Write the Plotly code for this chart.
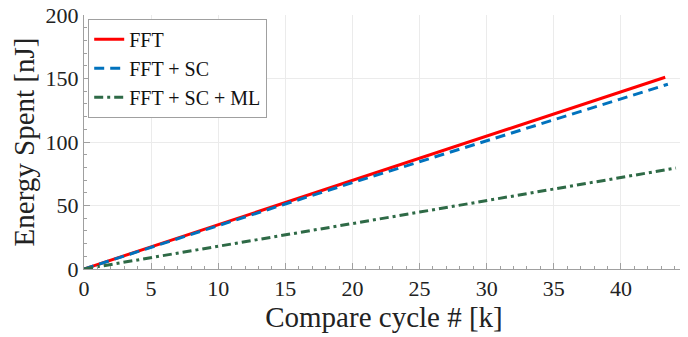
import plotly.graph_objects as go

# Data
x_fft = [0, 5, 10, 15, 20, 25, 30, 35, 40, 43.3]
y_fft = [0, 17.4, 34.9, 52.3, 69.8, 87.2, 104.6, 122.1, 139.5, 151]

x_sc = [0, 5, 10, 15, 20, 25, 30, 35, 40, 43.5]
y_sc = [0, 17.2, 34.3, 51.2, 68.0, 84.6, 101.0, 117.5, 134.0, 145.5]

x_ml = [0, 5, 10, 15, 20, 25, 30, 35, 40, 44.1]
y_ml = [0, 8.8, 17.8, 26.8, 35.8, 44.8, 53.8, 62.8, 71.8, 79.5]

x_ticks = [0, 5, 10, 15, 20, 25, 30, 35, 40]
y_ticks = [0, 50, 100, 150, 200]

FONT = "Liberation Serif, Times New Roman, serif"

fig = go.Figure()
fig.add_trace(go.Scatter(x=x_fft, y=y_fft, mode="lines", name="FFT",
                         line=dict(color="#FF0000", width=3)))
fig.add_trace(go.Scatter(x=x_sc, y=y_sc, mode="lines", name="FFT + SC",
                         line=dict(color="#0072BD", width=3, dash="10px,6px")))
fig.add_trace(go.Scatter(x=x_ml, y=y_ml, mode="lines", name="FFT + SC + ML",
                         line=dict(color="#2E6A46", width=3, dash="9px,4px,3px,4px")))

axis_common = dict(
    showgrid=True, gridcolor="#ebebeb", gridwidth=1,
    showline=True, linecolor="#a0a0a0", linewidth=1,
    ticks="inside", ticklen=6, tickcolor="#a0a0a0",
    tickfont=dict(family=FONT, size=22, color="#222"),
    zeroline=False, automargin=False, ticklabeloverflow="allow",
)

fig.update_layout(
    width=680, height=329,
    margin=dict(l=76, r=4, t=7, b=68),
    paper_bgcolor="white", plot_bgcolor="white",
    font=dict(family=FONT, color="#222"),
    xaxis=dict(range=[0, 44.7], tickvals=x_ticks,
               minor=dict(ticks="inside", dtick=1, ticklen=3, tickcolor="#a0a0a0", showgrid=False),
               title=dict(text="Compare cycle # [k]", font=dict(family=FONT, size=29), standoff=0),
               **axis_common),
    yaxis=dict(range=[0, 200], tickvals=y_ticks,
               minor=dict(ticks="inside", dtick=10, ticklen=3, tickcolor="#a0a0a0", showgrid=False),
               title=dict(text="Energy Spent [nJ]", font=dict(family=FONT, size=29), standoff=6),
               **axis_common),
    legend=dict(x=0.007, y=0.985, xanchor="left", yanchor="top",
                bgcolor="white", bordercolor="#a0a0a0", borderwidth=1,
                font=dict(family=FONT, size=20, color="#111"),
                itemwidth=30, tracegroupgap=0),
    showlegend=True,
)

fig.write_html("out.html")
